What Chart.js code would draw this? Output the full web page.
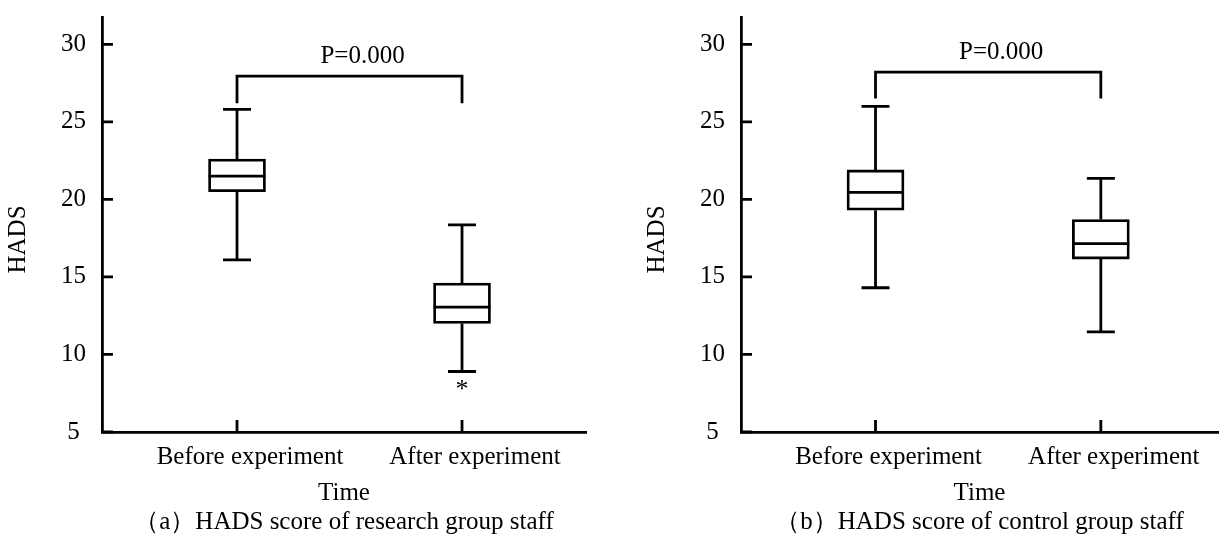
<!DOCTYPE html>
<html>
<head>
<meta charset="utf-8">
<script src="https://cdn.jsdelivr.net/npm/chart.js@4"></script>
<style>
  html, body { margin: 0; padding: 0; background: #fff; }
  #wrap { position: relative; width: 1219px; height: 538px; }
  .panel { position: absolute; top: 0; height: 538px; }
  #panelA { left: 0; width: 609px; }
  #panelB { left: 609px; width: 610px; }
</style>
</head>
<body>
<div id="wrap">
  <div class="panel" id="panelA"><canvas id="chartA"></canvas></div>
  <div class="panel" id="panelB"><canvas id="chartB"></canvas></div>
</div>
<script>
// ── Data ───────────────────────────────────────────────────────
const categories = ['Before experiment', 'After experiment'];
const catPos = [1, 2];
const yTicks = [5, 10, 15, 20, 25, 30];

// (a) research group
const resMin = [16.1, 8.9];
const resQ1 = [20.5, 12.0];
const resMedian = [21.5, 13.05];
const resQ3 = [22.6, 14.6];
const resMax = [25.8, 18.35];
const resOutliers = [[], [8.0]];
const resBracket = [27.95, 26.2];   // bar height, leg end

// (b) control group
const ctlMin = [14.3, 11.45];
const ctlQ1 = [19.3, 16.15];
const ctlMedian = [20.45, 17.15];
const ctlQ3 = [21.9, 18.7];
const ctlMax = [26.0, 21.35];
const ctlOutliers = [[], []];
const ctlBracket = [28.2, 26.5];

const pLabel = 'P=0.000';
const yTitle = 'HADS';
const xTitle = 'Time';
const captionA = '（a）HADS score of research group staff';
const captionB = '（b）HADS score of control group staff';

// ── Style ──────────────────────────────────────────────────────
const FONT = '"Liberation Serif", "Times New Roman", serif';
const LINE_W = 2.8;
const BOX_W = 57;
const CAP_W = 28;

Chart.defaults.font.family = FONT;
Chart.defaults.font.size = 25;
Chart.defaults.color = '#000';

// whiskers, medians, outliers, bracket, inner tick marks, y title
function boxPlugin(g) {
  return {
    id: 'boxWhisker',
    afterDatasetsDraw(chart) {
      const { ctx, chartArea: a, scales: { x, y } } = chart;
      ctx.save();
      ctx.strokeStyle = '#000';
      ctx.fillStyle = '#000';
      ctx.lineWidth = LINE_W;

      // inner ticks
      ctx.beginPath();
      yTicks.forEach(v => {
        const py = y.getPixelForValue(v);
        ctx.moveTo(a.left, py); ctx.lineTo(a.left + 11, py);
      });
      catPos.forEach(v => {
        const px = x.getPixelForValue(v);
        ctx.moveTo(px, a.bottom); ctx.lineTo(px, a.bottom - 12);
      });
      ctx.stroke();

      catPos.forEach((v, i) => {
        const px = x.getPixelForValue(v);
        const yMax = y.getPixelForValue(g.max[i]);
        const yMin = y.getPixelForValue(g.min[i]);
        const yMed = y.getPixelForValue(g.median[i]);
        ctx.beginPath();
        ctx.moveTo(px, y.getPixelForValue(g.q3[i])); ctx.lineTo(px, yMax);
        ctx.moveTo(px, y.getPixelForValue(g.q1[i])); ctx.lineTo(px, yMin);
        ctx.moveTo(px - CAP_W / 2, yMax); ctx.lineTo(px + CAP_W / 2, yMax);
        ctx.moveTo(px - CAP_W / 2, yMin); ctx.lineTo(px + CAP_W / 2, yMin);
        ctx.moveTo(px - BOX_W / 2, yMed); ctx.lineTo(px + BOX_W / 2, yMed);
        ctx.stroke();

        ctx.font = '26px ' + FONT;
        ctx.textAlign = 'center';
        ctx.textBaseline = 'alphabetic';
        g.outliers[i].forEach(o => ctx.fillText('*', px, y.getPixelForValue(o) + 12));
      });

      // significance bracket
      const x1 = x.getPixelForValue(catPos[0]);
      const x2 = x.getPixelForValue(catPos[1]);
      const yTop = y.getPixelForValue(g.bracket[0]);
      const yLeg = y.getPixelForValue(g.bracket[1]);
      ctx.beginPath();
      ctx.moveTo(x1, yLeg); ctx.lineTo(x1, yTop);
      ctx.lineTo(x2, yTop); ctx.lineTo(x2, yLeg);
      ctx.stroke();

      ctx.font = '25px ' + FONT;
      ctx.textAlign = 'center';
      ctx.textBaseline = 'middle';
      ctx.fillText(pLabel, (x1 + x2) / 2 + 13, yTop - 20);

      // y axis title, sits a little below the middle in the original
      ctx.translate(a.left - 84, (a.top + a.bottom) / 2 + 15);
      ctx.rotate(-Math.PI / 2);
      ctx.fillText(yTitle, 0, 0);
      ctx.restore();
    }
  };
}

function makeChart(id, g, caption, pad, xMin, xMax) {
  return new Chart(document.getElementById(id), {
    type: 'bar',
    data: {
      datasets: [{
        data: catPos.map((v, i) => ({ x: v, y: [g.q1[i], g.q3[i]] })),
        backgroundColor: '#fff',
        borderColor: '#000',
        borderWidth: LINE_W,
        borderSkipped: false,
        barThickness: BOX_W,
      }]
    },
    options: {
      responsive: true,
      maintainAspectRatio: false,
      animation: false,
      events: [],
      layout: { padding: pad },
      plugins: { legend: { display: false }, tooltip: { enabled: false } },
      scales: {
        x: {
          type: 'linear',
          min: xMin, max: xMax,
          offset: false,
          afterBuildTicks: s => { s.ticks = catPos.map(v => ({ value: v })); },
          afterFit: s => { s.height = 106; s.paddingLeft = 0; s.paddingRight = 0; },
          grid: { display: true, drawOnChartArea: false, drawTicks: false, color: 'transparent' },
          border: { display: true, color: '#000', width: LINE_W },
          ticks: {
            padding: 10,
            labelOffset: 13,
            maxRotation: 0,
            autoSkip: false,
            callback: v => categories[catPos.indexOf(v)],
          },
          title: {
            display: true,
            text: [xTitle, caption],
            font: { size: 25, lineHeight: 1.16 },
            padding: { top: 0, bottom: 1 },
          },
        },
        y: {
          min: 5, max: 31.76,
          afterBuildTicks: s => { s.ticks = yTicks.map(v => ({ value: v })); },
          afterFit: s => { s.width = 102; s.paddingTop = 0; s.paddingBottom = 0; },
          grid: { display: true, drawOnChartArea: false, drawTicks: false, color: 'transparent' },
          border: { display: true, color: '#000', width: LINE_W },
          ticks: { padding: 16, crossAlign: 'center' },
          title: { display: false },
        },
      },
    },
    plugins: [boxPlugin(g)],
  });
}

// ── Boot ───────────────────────────────────────────────────────
makeChart('chartA',
  { min: resMin, q1: resQ1, median: resMedian, q3: resQ3, max: resMax, outliers: resOutliers, bracket: resBracket },
  captionA, { left: 0, top: 17, right: 23, bottom: 0 }, 0.4, 2.551);

makeChart('chartB',
  { min: ctlMin, q1: ctlQ1, median: ctlMedian, q3: ctlQ3, max: ctlMax, outliers: ctlOutliers, bracket: ctlBracket },
  captionB, { left: 30, top: 17, right: 1, bottom: 0 }, 0.403, 2.52);
</script>
</body>
</html>
